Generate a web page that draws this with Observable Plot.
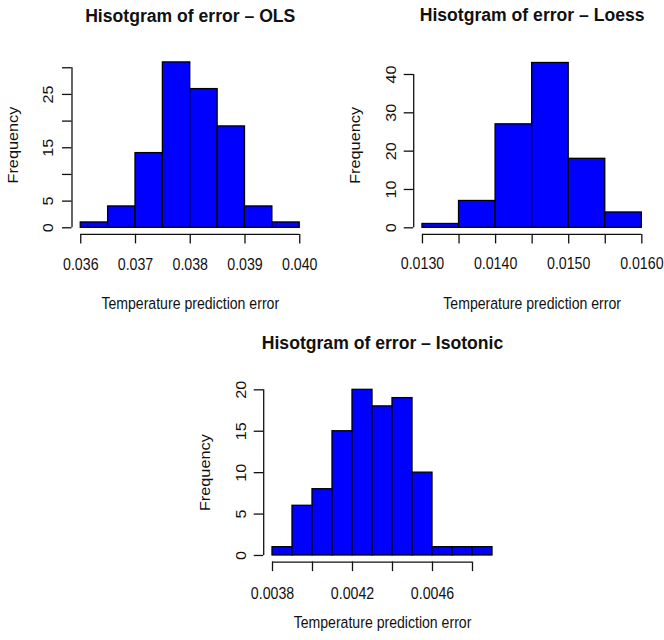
<!DOCTYPE html>
<html><head><meta charset="utf-8">
<script src="https://cdn.jsdelivr.net/npm/d3@7"></script>
<script src="https://cdn.jsdelivr.net/npm/@observablehq/plot@0.6"></script>
<style>
body{margin:0;background:#fff;}
#wrap{position:relative;width:664px;height:640px;background:#fff;}
#wrap svg{position:absolute;}
</style></head><body><div id="wrap"></div>
<script>
// ---------- OLS ----------
const olsTitle = "Hisotgram of error \u2013 OLS";
const olsBreaks = [0.0360, 0.0365, 0.0370, 0.0375, 0.0380, 0.0385, 0.0390, 0.0395, 0.0400];
const olsCounts = [1, 4, 14, 31, 26, 19, 4, 1];
const olsXTicks = [0.036, 0.037, 0.038, 0.039, 0.040];
const olsXLabels = ["0.036", "0.037", "0.038", "0.039", "0.040"];
const olsYTicks = [0, 5, 10, 15, 20, 25, 30];
const olsYLabels = [0, 5, 15, 25];

// ---------- Loess ----------
const loessTitle = "Hisotgram of error \u2013 Loess";
const loessBreaks = [0.0130, 0.0135, 0.0140, 0.0145, 0.0150, 0.0155, 0.0160];
const loessCounts = [1, 7, 27, 43, 18, 4];
const loessXTicks = [0.0130, 0.0135, 0.0140, 0.0145, 0.0150, 0.0155, 0.0160];
const loessXLabelTicks = [0.0130, 0.0140, 0.0150, 0.0160];
const loessXLabels = ["0.0130", "0.0140", "0.0150", "0.0160"];
const loessYTicks = [0, 10, 20, 30, 40];
const loessYLabels = [0, 10, 20, 30, 40];

// ---------- Isotonic ----------
const isoTitle = "Hisotgram of error \u2013 Isotonic";
const isoBreaks = [0.0038, 0.0039, 0.0040, 0.0041, 0.0042, 0.0043, 0.0044, 0.0045, 0.0046, 0.0047, 0.0048, 0.0049];
const isoCounts = [1, 6, 8, 15, 20, 18, 19, 10, 1, 1, 1];
const isoXTicks = [0.0038, 0.0040, 0.0042, 0.0044, 0.0046, 0.0048];
const isoXLabelTicks = [0.0038, 0.0042, 0.0046];
const isoXLabels = ["0.0038", "0.0042", "0.0046"];
const isoYTicks = [0, 5, 10, 15, 20];
const isoYLabels = [0, 5, 10, 15, 20];

const xTitle = "Temperature prediction error";
const yTitle = "Frequency";
const FONT = "'Liberation Sans', Arial, Helvetica, sans-serif";

// vertically stretch text glyphs (the reference's axis text is tall and narrow)
function stretch(svg, label, k) {
  svg.querySelectorAll(`g[aria-description="${label}"] text`).forEach(t => {
    const tr = t.getAttribute("transform");
    if (tr && /translate\(/.test(tr)) {
      t.setAttribute("transform", tr.replace(/(translate\([^)]*\))/, `$1 scale(1,${k})`));
    } else {
      const x = +(t.getAttribute("x") || 0), y = +(t.getAttribute("y") || 0);
      t.setAttribute("transform", `translate(${x},${y}) scale(1,${k}) translate(${-x},${-y})` + (tr ? " " + tr : ""));
    }
  });
}

function panel(cfg) {
  const bins = cfg.counts.map((c, i) => ({x1: cfg.breaks[i], x2: cfg.breaks[i + 1], count: c}));
  const bx0 = cfg.breaks[0], bx1 = cfg.breaks[cfg.breaks.length - 1];
  const ext = (bx1 - bx0) * 0.04;
  const ymax = d3.max(cfg.counts);
  const yext = ymax * 0.04;
  const xDomain = [bx0 - ext, bx1 + ext];
  const yDomain = [-yext, ymax + yext];
  const labelTicks = cfg.xLabelTicks || cfg.xTicks;
  const xLab = labelTicks.map((v, i) => ({v, t: cfg.xLabels[i]}));
  const ink = "#111";
  const svg = Plot.plot({
    width: cfg.width, height: cfg.height,
    marginLeft: cfg.ml, marginRight: cfg.mr, marginTop: cfg.mt, marginBottom: cfg.mb,
    style: {fontFamily: FONT, background: "transparent", color: ink},
    x: {domain: xDomain, axis: null},
    y: {domain: yDomain, axis: null},
    marks: [
      Plot.rectY(bins, {x1: "x1", x2: "x2", y1: 0, y2: "count", fill: "#0000ff", stroke: "#000", strokeWidth: 1.3}),
      // x axis line (first to last tick), at bottom of plot region
      Plot.ruleY([{y: yDomain[0], a: cfg.xTicks[0], b: cfg.xTicks[cfg.xTicks.length - 1]}], {y: "y", x1: "a", x2: "b", stroke: ink, strokeWidth: 1.3}),
      Plot.axisX(cfg.xTicks, {anchor: "bottom", tickSize: 9.5, tickFormat: () => "", label: null, stroke: ink, strokeWidth: 1.3}),
      Plot.text(xLab, {x: "v", text: "t", frameAnchor: "bottom", dy: cfg.xlabDy, lineAnchor: "middle", textAnchor: "middle", fontSize: 14.2, fill: ink, ariaDescription: "hstretch"}),
      // y axis line
      Plot.ruleX([{x: xDomain[0], a: cfg.yTicks[0], b: cfg.yTicks[cfg.yTicks.length - 1]}], {x: "x", y1: "a", y2: "b", stroke: ink, strokeWidth: 1.3}),
      Plot.axisY(cfg.yTicks, {anchor: "left", tickSize: 9.5, tickFormat: () => "", label: null, stroke: ink, strokeWidth: 1.3}),
      Plot.text(cfg.yLabels, {y: d => d, text: d => String(d), frameAnchor: "left", dx: cfg.ylabDx, rotate: -90, lineAnchor: "middle", textAnchor: "middle", fontSize: 14.3, fill: ink, ariaDescription: "vstretch"}),
      // titles
      Plot.text([cfg.title], {text: d => d, frameAnchor: "top", dy: cfg.titleDy, lineAnchor: "middle", textAnchor: "middle", fontSize: 17.6, fontWeight: "bold", fill: ink}),
      Plot.text([xTitle], {text: d => d, frameAnchor: "bottom", dy: cfg.xtitleDy, lineAnchor: "middle", textAnchor: "middle", fontSize: 14.1, fill: ink, ariaDescription: "hstretch"}),
      Plot.text([yTitle], {text: d => d, frameAnchor: "left", dx: cfg.ytitleDx, rotate: -90, lineAnchor: "middle", textAnchor: "middle", fontSize: 14.4, fill: ink, ariaDescription: "vstretch"})
    ]
  });
  stretch(svg, "hstretch", 1.18);
  stretch(svg, "vstretch", 1.13);
  svg.style.left = cfg.left + "px";
  svg.style.top = cfg.top + "px";
  document.getElementById("wrap").appendChild(svg);
}

panel({title: olsTitle, breaks: olsBreaks, counts: olsCounts, xTicks: olsXTicks, xLabels: olsXLabels,
  yTicks: olsYTicks, yLabels: olsYLabels,
  left: 0, top: 0, width: 332, height: 320, ml: 71.5, mr: 24, mt: 55.3, mb: 86.1,
  xlabDy: 30.4, xtitleDy: 69.1, ylabDx: -23.8, ytitleDx: -58.8, titleDy: -39.3});

panel({title: loessTitle, breaks: loessBreaks, counts: loessCounts, xTicks: loessXTicks, xLabelTicks: loessXLabelTicks, xLabels: loessXLabels,
  yTicks: loessYTicks, yLabels: loessYLabels,
  left: 332, top: 0, width: 332, height: 320, ml: 81.2, mr: 13.9, mt: 55.9, mb: 86.1,
  xlabDy: 29.4, xtitleDy: 69.1, ylabDx: -22.2, ytitleDx: -57.9, titleDy: -40.9});

panel({title: isoTitle, breaks: isoBreaks, counts: isoCounts, xTicks: isoXTicks, xLabelTicks: isoXLabelTicks, xLabels: isoXLabels,
  yTicks: isoYTicks, yLabels: isoYLabels,
  left: 180, top: 320, width: 340, height: 320, ml: 83.2, mr: 19.2, mt: 62.7, mb: 78.4,
  xlabDy: 31.7, xtitleDy: 60.1, ylabDx: -22.5, ytitleDx: -58.2, titleDy: -40});
</script>
</body></html>
